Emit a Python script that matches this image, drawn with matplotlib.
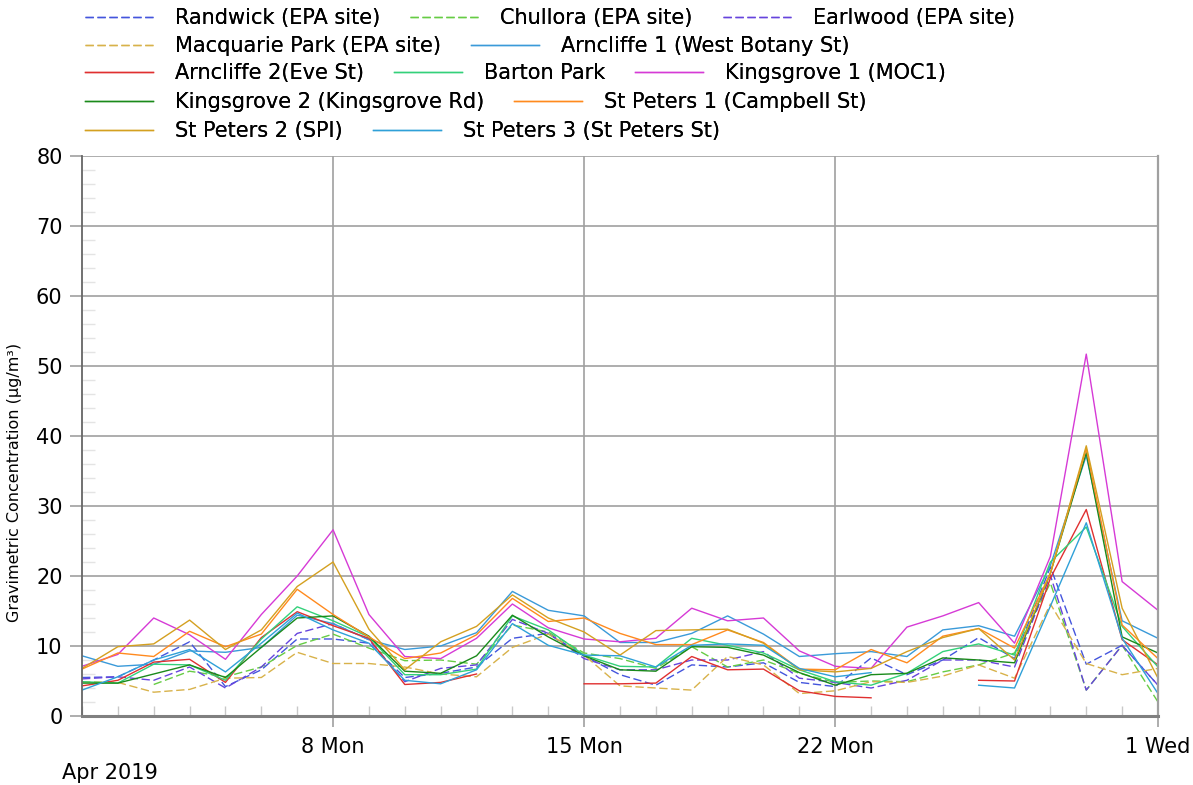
import numpy as np
import pandas as pd
import matplotlib
matplotlib.use("Agg")
import matplotlib.pyplot as plt
import matplotlib.dates as mdates
from matplotlib.ticker import MultipleLocator, FixedLocator, FuncFormatter

plt.rcParams['font.family'] = ['DejaVu Sans']

nan = np.nan
dates = pd.date_range('2019-04-01', periods=31, freq='D')

randwick = [5.5, 5.6, 8.0, 10.6, 4.2, 6.6, 11.0, 11.0, 10.4, 5.5, 6.1, 7.0, 11.1, 11.8, 8.6, 5.9,
            4.4, 7.3, 7.0, 7.6, 4.8, 4.2, 8.3, 5.9, 8.0, 11.2, 8.2, 21.3, 7.4, 10.1, 4.4]
chullora = [nan, nan, 4.5, 6.4, 5.6, 7.0, 10.1, 11.7, 9.7, 7.9, 8.0, 7.4, 13.0, 12.0, 9.0, 8.2,
            6.8, 9.9, 7.0, 8.0, 6.1, 4.8, 5.0, 4.9, 6.3, 7.3, 9.0, 19.0, 3.7, 10.1, 2.0]
earlwood = [5.3, 5.6, 5.1, 7.0, 4.0, 7.0, 11.8, 13.2, 10.9, 4.9, 6.8, 7.3, 13.8, 11.8, 8.2, 6.6,
            6.6, 8.0, 8.0, 9.2, 5.4, 4.8, 4.0, 5.1, 8.0, 8.0, 7.0, 20.1, 3.7, 10.1, 4.4]
macquarie = [4.9, 4.8, 3.4, 3.8, 5.4, 5.5, 9.1, 7.5, 7.5, 7.0, 6.0, 5.6, 9.8, 11.7, 8.7, 4.3,
             4.0, 3.7, 8.5, 7.3, 3.2, 3.6, 4.9, 4.8, 5.7, 7.3, 5.4, 16.0, 7.5, 5.9, 6.8]
arncliffe1 = [8.6, 7.1, 7.4, 9.3, 9.1, 9.8, 14.4, 13.2, 10.9, 9.5, 10.0, 11.9, 17.8, 15.1, 14.3, 10.5,
              10.5, 11.8, 14.3, 11.7, 8.5, 8.9, 9.2, 8.5, 12.3, 12.9, 11.4, 21.5, 37.2, 13.6, 11.1]
arncliffe2 = [4.3, 5.1, 7.7, 8.1, 4.8, 11.2, 14.9, 12.9, 11.1, 4.5, 4.8, 6.0, nan, nan, 4.6, 4.6,
              4.7, 8.5, 6.6, 6.7, 3.6, 2.8, 2.6, nan, nan, 5.1, 5.0, 19.7, 29.5, 10.9, 7.3]
barton = [4.9, 4.7, 7.4, 7.3, 5.1, 11.0, 15.6, 13.6, 11.3, 5.9, 5.9, 6.7, 14.3, 12.3, 8.7, 7.1,
          7.0, 11.1, 10.1, 9.0, 6.6, 4.9, 4.4, 6.1, 9.2, 10.3, 8.7, 22.0, 27.0, 12.8, 7.0]
kingsgrove1 = [7.1, 8.8, 14.0, 11.6, 8.1, 14.5, 20.0, 26.6, 14.5, 8.5, 8.2, 11.1, 16.0, 12.6, 11.0, 10.6,
               11.1, 15.4, 13.6, 14.0, 9.3, 7.1, 6.8, 12.7, 14.3, 16.2, 10.4, 22.8, 51.7, 19.2, 15.1]
kingsgrove2 = [4.7, 4.7, 6.0, 7.3, 5.5, 9.8, 14.0, 14.3, 11.4, 6.4, 6.1, 8.6, 14.4, 11.3, 8.6, 6.6,
               6.4, 9.9, 9.8, 8.7, 6.2, 4.4, 5.9, 6.1, 8.3, 8.0, 7.6, 20.4, 37.6, 11.3, 9.0]
stpeters1 = [6.7, 9.0, 8.5, 12.1, 9.9, 11.7, 18.1, 14.5, 11.3, 8.2, 9.0, 11.6, 16.8, 13.5, 14.0, 11.8,
             10.2, 10.2, 12.3, 10.5, 6.7, 6.6, 9.5, 7.6, 11.4, 12.5, 9.7, 20.4, 38.2, 13.0, 8.2]
stpeters2 = [6.8, 9.9, 10.3, 13.7, 9.5, 12.3, 18.5, 22.0, 12.4, 6.6, 10.6, 12.8, 17.3, 14.0, 12.0, 8.7,
             12.2, 12.3, 12.4, 10.4, 6.6, 6.3, 6.8, 9.2, 11.2, 12.5, 8.0, 20.4, 38.6, 15.4, 5.4]
stpeters3 = [3.7, 5.6, 8.0, 9.5, 6.3, 10.4, 14.7, 12.3, 10.4, 5.1, 4.6, 6.6, 13.2, 10.1, 8.7, 8.6,
             7.0, 10.1, 10.3, 10.1, 6.8, 5.6, 6.2, nan, nan, 4.4, 4.0, 15.7, 27.6, 11.1, 3.2]

names = ['Randwick (EPA site)', 'Chullora (EPA site)', 'Earlwood (EPA site)',
         'Macquarie Park (EPA site)', 'Arncliffe 1 (West Botany St)',
         'Arncliffe 2(Eve St)', 'Barton Park', 'Kingsgrove 1 (MOC1)',
         'Kingsgrove 2 (Kingsgrove Rd)', 'St Peters 1 (Campbell St)',
         'St Peters 2 (SPI)', 'St Peters 3 (St Peters St)']
values = [randwick, chullora, earlwood, macquarie, arncliffe1, arncliffe2, barton,
          kingsgrove1, kingsgrove2, stpeters1, stpeters2, stpeters3]
colors = ['#4455dd', '#66cc44', '#6644dd', '#d8b24a', '#3a9ad9', '#e03030', '#33d17a',
          '#d63ad6', '#1a8a1a', '#ff8a1e', '#d4a020', '#2fa0d8']
dashed = [True, True, True, True] + [False] * 8

fig = plt.figure(figsize=(11.93, 7.85), dpi=100)
W, H = 1193, 785
ax = fig.add_axes([82 / W, 1 - 716 / H, (1158 - 82) / W, (716 - 156) / H])

handles = []
for name, v, c, d in zip(names, values, colors, dashed):
    if d:
        ln, = ax.plot(dates, v, color=c, lw=1.0, dashes=(6, 2.6), label=name)
    else:
        ln, = ax.plot(dates, v, color=c, lw=1.0, label=name)
    handles.append(ln)

ax.set_xlim(dates[0], pd.Timestamp('2019-05-01'))
ax.set_ylim(0, 80)

major_dates = [pd.Timestamp('2019-04-08'), pd.Timestamp('2019-04-15'),
               pd.Timestamp('2019-04-22'), pd.Timestamp('2019-05-01')]
ax.xaxis.set_major_locator(FixedLocator(mdates.date2num(major_dates)))
ax.xaxis.set_major_formatter(FuncFormatter(
    lambda x, p: f"{mdates.num2date(x).day} {mdates.num2date(x).strftime('%a')}"))
ax.xaxis.set_minor_locator(mdates.DayLocator())
ax.yaxis.set_major_locator(MultipleLocator(10))
ax.yaxis.set_minor_locator(MultipleLocator(2))

ax.grid(True, which='major', axis='both', color='#a0a0a0', lw=1.2)
ax.set_axisbelow(True)

ax.tick_params(axis='x', which='major', direction='out', length=8, width=1.2,
               color='#a0a0a0', labelsize=15, pad=7)
ax.tick_params(axis='x', which='minor', direction='in', length=7, width=1.0,
               color='#c8c8c8')
ax.tick_params(axis='y', which='major', direction='out', length=9, width=1.2,
               color='#a0a0a0', labelsize=15, pad=5)
ax.tick_params(axis='y', which='minor', direction='in', length=9, width=1.0,
               color='#e4e4e4')

ax.spines['left'].set_color('#666666')
ax.spines['left'].set_linewidth(1.3)
ax.spines['bottom'].set_color('#808080')
ax.spines['bottom'].set_linewidth(2.2)
ax.spines['right'].set_color('#a0a0a0')
ax.spines['right'].set_linewidth(1.6)
ax.spines['top'].set_visible(False)

fig.text(15 / W, 1 - 482 / H, 'Gravimetric Concentration (µg/m³)', rotation=90,
         ha='center', va='center', fontsize=11.5)
fig.text(62 / W, 1 - 773 / H, 'Apr 2019', ha='left', va='center', fontsize=15)

rows = [[0, 1, 2], [3, 4], [5, 6, 7], [8, 9], [10, 11]]
row_y = [18, 46, 73, 102, 131]
fs = 15
fpx = fs * 100 / 72
for r, yc in zip(rows, row_y):
    leg = fig.legend([handles[i] for i in r], [names[i] for i in r],
                     loc='center left', bbox_to_anchor=(85 / W, 1 - yc / H),
                     ncol=len(r), frameon=False, fontsize=fs,
                     handlelength=68 / fpx, handletextpad=22 / fpx,
                     columnspacing=30 / fpx, borderpad=0, borderaxespad=0)
    fig.add_artist(leg)

fig.savefig('out.png', dpi=100)
